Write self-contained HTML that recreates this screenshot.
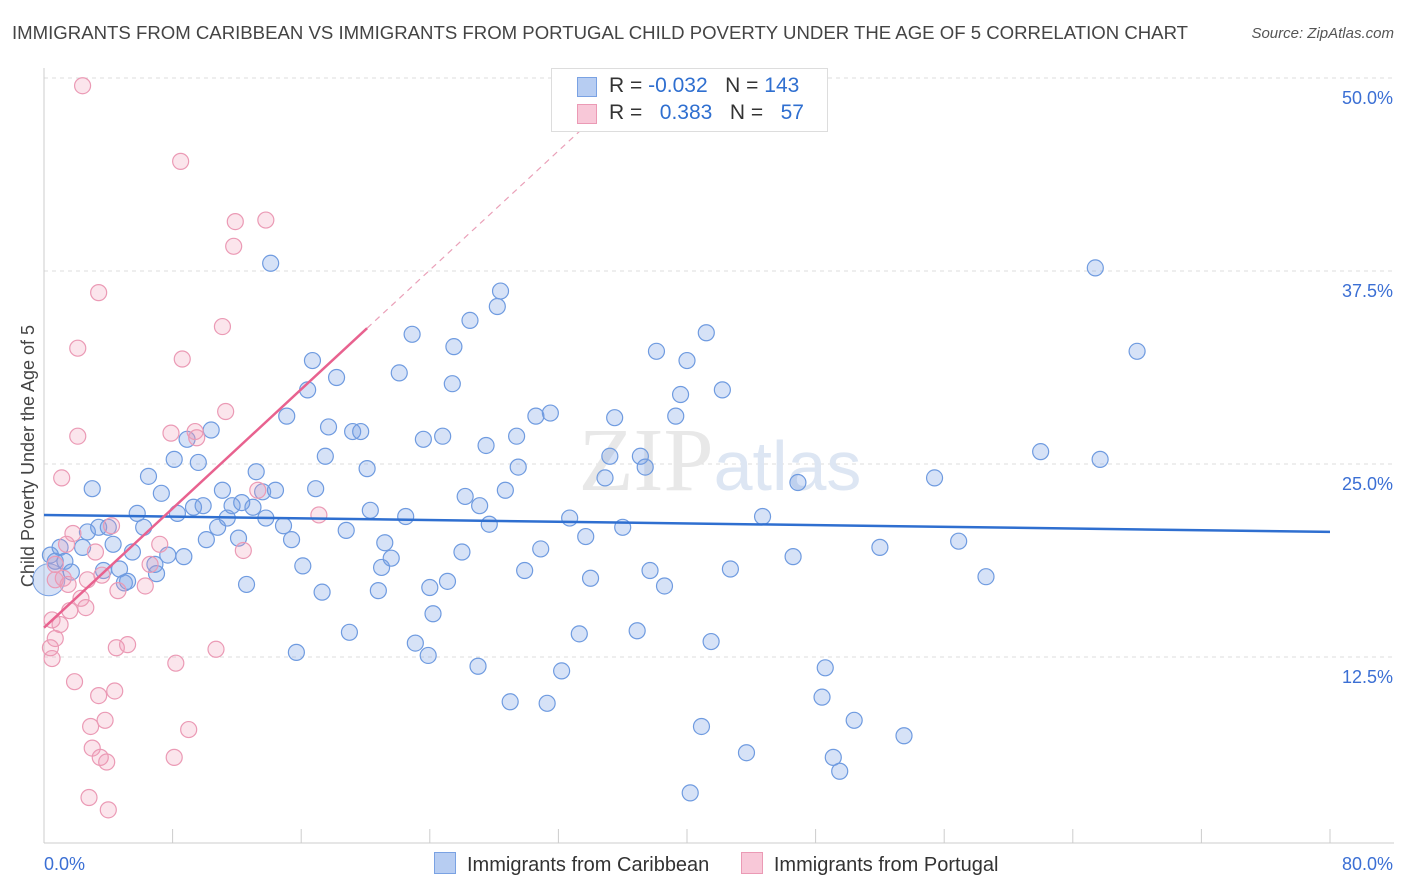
<!DOCTYPE html>
<html><head><meta charset="utf-8">
<style>
body{margin:0;background:#fff;font-family:"Liberation Sans",sans-serif;}
#wrap{position:relative;width:1406px;height:892px;overflow:hidden;}
.title{position:absolute;left:12px;top:22px;font-size:18.6px;color:#444;white-space:nowrap;}
.src{position:absolute;right:12px;top:25px;font-size:15px;color:#555;font-style:italic;}
</style></head><body>
<div id="wrap">
<div class="title">IMMIGRANTS FROM CARIBBEAN VS IMMIGRANTS FROM PORTUGAL CHILD POVERTY UNDER THE AGE OF 5 CORRELATION CHART</div>
<div class="src">Source: ZipAtlas.com</div>
<svg id="svg" width="1406" height="892" style="position:absolute;left:0;top:0"></svg>
</div>
<script>
const blueX=[0.4,0.7,1.0,1.3,1.7,2.4,2.7,3.0,3.4,3.7,4.0,4.3,4.7,5.0,5.2,5.5,5.8,6.2,6.5,6.9,7.0,7.3,7.7,8.1,8.3,8.7,8.9,9.3,9.6,9.9,10.1,10.4,10.8,11.1,11.4,11.7,12.1,12.3,12.6,13.0,13.2,13.6,13.8,14.1,14.4,14.9,15.1,15.4,15.7,16.1,16.4,16.7,16.9,17.3,17.5,17.7,18.2,18.8,19.0,19.2,19.7,20.1,20.3,20.8,21.0,21.2,21.6,22.1,22.5,22.9,23.1,23.6,23.9,24.0,24.2,24.8,25.1,25.4,25.5,26.0,26.2,26.5,27.0,27.1,27.5,27.7,28.2,28.4,28.7,29.0,29.4,29.5,29.9,30.6,30.9,31.3,31.5,32.2,32.7,33.3,33.7,34.0,34.9,35.2,35.5,36.0,36.9,37.1,37.4,37.7,38.1,38.6,39.3,39.6,40.0,40.2,40.9,41.2,41.5,42.2,42.7,43.7,44.7,46.6,46.9,48.4,48.6,49.1,49.5,50.4,52.0,53.5,55.4,56.9,58.6,62.0,65.4,65.7,68.0];
const blueY=[19.1,18.7,19.6,18.7,18.0,19.6,20.6,23.4,20.9,18.1,20.9,19.8,18.2,17.3,17.4,19.3,21.8,20.9,24.2,18.5,17.9,23.1,19.1,25.3,21.8,19.0,26.6,22.2,25.1,22.3,20.1,27.2,20.9,23.3,21.5,22.3,20.2,22.5,17.2,22.2,24.5,23.2,21.5,38.0,23.3,21.0,28.1,20.1,12.8,18.4,29.8,31.7,23.4,16.7,25.5,27.4,30.6,20.7,14.1,27.1,27.1,24.7,22.0,16.8,18.3,19.9,18.9,30.9,21.6,33.4,13.4,26.6,12.6,17.0,15.3,26.8,17.4,30.2,32.6,19.3,22.9,34.3,11.9,22.3,26.2,21.1,35.2,36.2,23.3,9.6,26.8,24.8,18.1,28.1,19.5,9.5,28.3,11.6,21.5,14.0,20.3,17.6,24.1,25.5,28.0,20.9,14.2,25.5,24.8,18.1,32.3,17.1,28.1,29.5,31.7,3.7,8.0,33.5,13.5,29.8,18.2,6.3,21.6,19.0,23.8,9.9,11.8,6.0,5.1,8.4,19.6,7.4,24.1,20.0,17.7,25.8,37.7,25.3,32.3];
const pinkX=[2.4,8.5,11.9,13.8,11.8,3.4,11.1,2.1,8.6,11.3,2.1,7.9,9.5,1.1,13.3,17.1,4.2,1.8,7.2,12.4,3.2,1.4,0.7,1.2,3.6,2.7,6.3,4.6,2.3,2.6,1.6,0.5,1.0,0.7,0.4,4.5,5.2,10.7,0.5,8.2,1.9,4.4,3.4,3.8,2.9,9.0,3.0,3.5,3.9,8.1,2.8,4.0,0.7,1.5,9.4,6.6];
const pinkY=[49.5,44.6,40.7,40.8,39.1,36.1,33.9,32.5,31.8,28.4,26.8,27.0,26.7,24.1,23.3,21.7,21.0,20.5,19.8,19.4,19.3,19.8,18.5,17.6,17.8,17.5,17.1,16.8,16.3,15.7,15.5,14.9,14.6,13.7,13.1,13.1,13.3,13.0,12.4,12.1,10.9,10.3,10.0,8.4,8.0,7.8,6.6,6.0,5.7,6.0,3.4,2.6,17.5,17.2,27.1,18.5];
const blueTrend=[21.7,20.6];
const pinkTrend=[14.4,0.965];
const yTicks=[12.5,25.0,37.5,50.0];
const xTicks=[0,8,16,24,32,40,48,56,64,72,80];

const X=v=>44+v*16.075, Y=v=>850-v*15.44;
const svg=document.getElementById('svg');const NS='http://www.w3.org/2000/svg';
function mk(t,a){const e=document.createElementNS(NS,t);for(const k in a)e.setAttribute(k,a[k]);svg.appendChild(e);return e;}
yTicks.forEach(t=>{
 const g=mk('line',{x1:44,x2:1394,y1:Y(t),y2:Y(t),stroke:'#ddd','stroke-dasharray':'4,4'});
 
 
 const l=mk('text',{x:1393,y:Y(t)+26,'text-anchor':'end','font-size':18,fill:'#3b6fd4'});l.textContent=t.toFixed(1)+'%';
 
 
});
let ax=mk('line',{x1:44,x2:44,y1:68,y2:843,stroke:'#ccc'});


ax=mk('line',{x1:44,x2:1394,y1:843,y2:843,stroke:'#ccc'});


xTicks.forEach(t=>{const e=mk('line',{x1:X(t),x2:X(t),y1:829,y2:843,stroke:'#ccc'});
 
 });
let t0=mk('text',{x:44,y:870,'font-size':18,fill:'#3b6fd4'});t0.textContent='0.0%';


let t1=mk('text',{x:1393,y:870,'text-anchor':'end','font-size':18,fill:'#3b6fd4'});t1.textContent='80.0%';


let yt=mk('text',{x:34,y:456,'text-anchor':'middle','font-size':18,fill:'#444',transform:'rotate(-90 34 456)'});yt.textContent='Child Poverty Under the Age of 5';


let wm=mk('text',{x:720,y:490,'text-anchor':'middle','font-size':90,fill:'#e8e8e8','font-family':'Liberation Serif'});wm.innerHTML='ZIP<tspan fill="#dde6f3" font-family="Liberation Sans" font-size="70">atlas</tspan>';


let big=mk('circle',{cx:X(0.3),cy:Y(17.5),r:16,fill:'rgba(120,160,230,0.3)',stroke:'#7aa2e3'});


blueX.forEach((x,i)=>{const c=mk('circle',{cx:X(x),cy:Y(blueY[i]),r:8,fill:'rgba(120,160,230,0.3)',stroke:'#6f9be0','stroke-width':1.2});
 
 });
pinkX.forEach((x,i)=>{const c=mk('circle',{cx:X(x),cy:Y(pinkY[i]),r:8,fill:'rgba(240,150,180,0.25)',stroke:'#eb9ab5','stroke-width':1.2});
 
 });
let bt=mk('line',{x1:X(0),y1:Y(blueTrend[0]),x2:X(80),y2:Y(blueTrend[1]),stroke:'#2f6fd0','stroke-width':2.5});


let pt=mk('line',{x1:X(0),y1:Y(pinkTrend[0]),x2:X(20.1),y2:Y(pinkTrend[0]+pinkTrend[1]*20.1),stroke:'#e8628f','stroke-width':2.5});


let pd=mk('line',{x1:X(20.1),y1:Y(pinkTrend[0]+pinkTrend[1]*20.1),x2:X(34),y2:Y(pinkTrend[0]+pinkTrend[1]*34),stroke:'#eaa0b8','stroke-width':1.2,'stroke-dasharray':'6,5'});


</script>
<div style="position:absolute;left:551px;top:68px;width:275px;height:62px;border:1px solid #ddd;background:#fff;font-size:21px;color:#333;white-space:nowrap">
 <div style="position:absolute;left:25px;top:8px;width:18px;height:18px;background:#b7cdf2;border:1px solid #7aa2e3"></div>
 <div style="position:absolute;left:57px;top:5px">R = <span style="color:#2f6fd0">-0.032</span>&nbsp;&nbsp;&nbsp;N = <span style="color:#2f6fd0">143</span></div>
 <div style="position:absolute;left:25px;top:35px;width:18px;height:18px;background:#f8c8d8;border:1px solid #eb9ab5"></div>
 <div style="position:absolute;left:57px;top:32px">R = &nbsp;&nbsp;<span style="color:#2f6fd0">0.383</span>&nbsp;&nbsp;&nbsp;N = &nbsp;&nbsp;<span style="color:#2f6fd0">57</span></div>
</div>
<div style="position:absolute;left:434px;top:852px;font-size:20px;color:#333;white-space:nowrap">
 <span><span style="display:inline-block;width:20px;height:20px;background:#b7cdf2;border:1px solid #7aa2e3;vertical-align:-3px;margin-right:11px"></span>Immigrants from Caribbean</span>
 <span style="margin-left:26px"><span style="display:inline-block;width:20px;height:20px;background:#f8c8d8;border:1px solid #eb9ab5;vertical-align:-3px;margin-right:11px"></span>Immigrants from Portugal</span>
</div>
</body></html>
